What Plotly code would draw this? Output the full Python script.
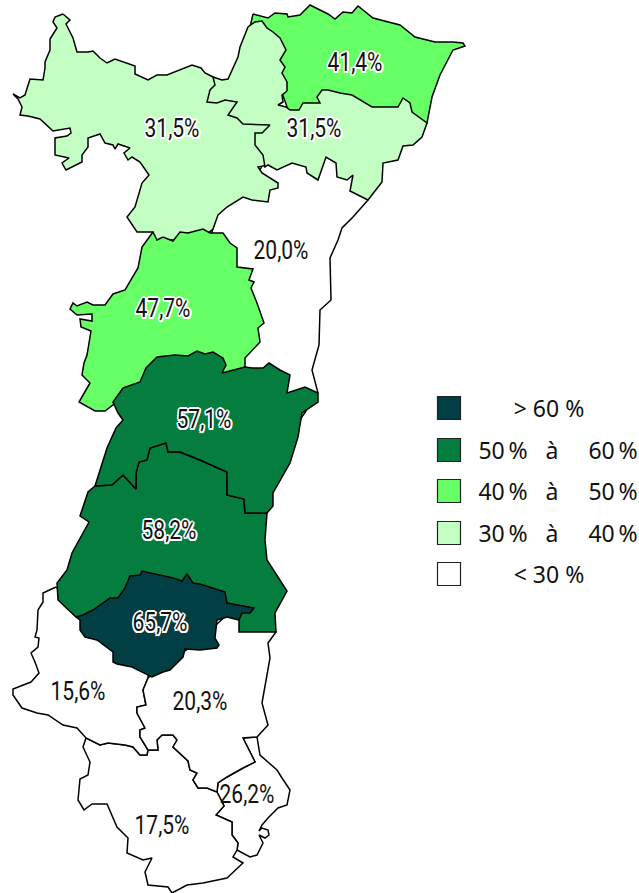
import plotly.graph_objects as go

W, H = 639, 893
C_WHITE, C_LIGHT, C_GREEN, C_MID, C_DARK = "#ffffff", "#c3ffc3", "#66ff66", "#047d3f", "#013f45"

zone_se_white = [(243,738),(257,737),(260,755),(277,770),(282,778),(290,790),(287,805),(278,808),(268,818),(262,825),(259,831),(262,828),(268,830),(269,835),(265,838),(259,835),(263,843),(257,855),(250,857),(237,850),(238,843),(232,835),(232,822),(216,815),(224,806),(217,792),(218,783),(227,777),(243,768),(255,762)]
zone_s_white = [(86,738),(83,747),(90,762),(88,775),(80,779),(78,800),(84,810),(92,804),(107,804),(117,827),(128,838),(127,853),(143,860),(152,858),(145,872),(148,885),(168,887),(172,893),(187,885),(203,883),(227,878),(243,863),(233,857),(237,850),(238,843),(232,835),(232,822),(216,815),(224,806),(217,792),(207,788),(198,788),(193,780),(197,773),(190,770),(188,761),(173,747),(177,740),(173,735),(162,735),(157,740),(158,750),(148,750),(147,755),(140,755),(133,747),(125,745),(108,743),(100,745)]
zone_sw_white = [(56,587),(43,593),(43,602),(38,610),(37,630),(35,637),(39,638),(38,647),(31,653),(35,662),(39,673),(31,682),(13,689),(13,695),(22,708),(37,713),(48,715),(63,725),(77,728),(86,738),(100,745),(108,743),(125,745),(133,747),(140,755),(147,755),(148,750),(140,737),(140,730),(145,728),(137,713),(137,707),(146,705),(143,690),(148,678),(150,640),(80,610)]
zone_sm_white = [(148,678),(143,690),(146,705),(137,707),(137,713),(145,728),(140,730),(140,737),(148,750),(158,750),(157,740),(162,735),(173,735),(177,740),(173,747),(188,761),(190,770),(197,773),(193,780),(198,788),(207,788),(217,792),(218,783),(227,777),(243,768),(255,762),(243,738),(257,737),(268,725),(262,703),(270,658),(268,643),(276,632),(250,625),(230,612),(200,640)]
zone_n_white = [(368,200),(353,217),(342,228),(338,240),(330,258),(331,300),(320,310),(319,345),(312,370),(318,393),(300,420),(220,400),(200,300),(213,229),(215,215),(240,190),(255,180),(265,160),(290,150),(330,150),(360,170)]
zone_nw_light = [(63,14),(70,20),(66,24),(70,33),(73,38),(77,52),(88,52),(93,51),(100,58),(107,63),(115,59),(135,66),(135,74),(148,80),(157,75),(167,75),(192,65),(201,68),(205,73),(213,77),(230,90),(250,110),(275,130),(275,160),(268,165),(258,167),(262,173),(278,183),(278,188),(270,190),(268,202),(252,200),(243,197),(227,207),(218,215),(213,229),(200,240),(153,240),(153,232),(137,232),(127,217),(135,207),(142,183),(149,175),(140,162),(132,157),(128,160),(124,153),(130,148),(118,144),(115,149),(113,145),(105,143),(100,134),(88,138),(88,147),(82,155),(82,162),(66,170),(62,163),(69,158),(55,155),(55,138),(67,136),(71,133),(70,128),(53,131),(40,119),(28,116),(20,115),(22,107),(18,99),(13,94),(20,98),(25,95),(30,79),(43,80),(45,68),(45,62),(50,50),(50,39),(57,28),(53,22),(55,17)]
zone_ne_green = [(253,14),(268,18),(275,13),(287,14),(288,17),(300,15),(310,5),(328,14),(335,19),(343,12),(352,13),(358,6),(373,18),(400,25),(415,37),(435,42),(453,42),(463,43),(465,46),(453,50),(440,75),(432,97),(427,123),(350,110),(290,115),(270,60),(250,27)]
zone_ne_light = [(213,77),(222,80),(228,79),(238,57),(240,47),(248,27),(255,22),(262,21),(267,28),(273,32),(280,38),(286,50),(280,60),(285,67),(282,73),(287,82),(287,91),(282,95),(283,102),(278,105),(286,107),(290,110),(299,110),(303,103),(312,103),(320,103),(317,97),(322,90),(328,90),(340,93),(352,95),(363,102),(372,107),(398,107),(403,98),(410,103),(412,112),(427,123),(422,137),(413,145),(403,146),(398,160),(383,163),(382,182),(368,200),(350,191),(353,175),(347,180),(337,177),(336,163),(326,157),(318,180),(307,173),(306,167),(292,163),(277,170),(268,165),(265,167),(263,155),(255,145),(255,133),(262,133),(270,125),(243,124),(237,118),(228,115),(237,102),(225,100),(217,103),(207,102),(210,90),(215,85)]
zone_c_green = [(153,232),(157,240),(163,237),(173,241),(180,232),(188,233),(203,229),(210,233),(223,233),(230,243),(237,248),(237,267),(253,269),(249,280),(254,282),(251,288),(257,303),(264,323),(258,328),(260,342),(245,358),(245,367),(225,375),(130,400),(113,405),(105,411),(95,411),(79,402),(90,383),(82,375),(84,363),(87,355),(91,331),(81,327),(80,319),(92,321),(92,314),(77,315),(70,309),(73,303),(77,306),(87,302),(93,305),(105,305),(113,294),(125,290),(138,268),(142,247)]
zone_cs_mid = [(123,388),(140,382),(146,368),(157,357),(175,355),(188,356),(197,351),(205,354),(213,352),(223,358),(226,365),(222,373),(245,367),(252,368),(263,368),(269,363),(280,370),(290,375),(287,393),(305,387),(318,393),(318,402),(302,413),(298,437),(290,463),(273,493),(273,506),(267,513),(245,513),(244,499),(227,495),(227,472),(200,460),(180,452),(168,452),(166,443),(150,448),(147,460),(139,462),(136,473),(136,489),(123,475),(112,485),(95,486),(107,448),(116,428),(123,420),(118,413),(113,402)]
zone_s_mid = [(95,486),(112,485),(123,475),(136,489),(136,473),(139,462),(147,460),(150,448),(166,443),(168,452),(180,452),(200,460),(227,472),(227,495),(244,499),(245,513),(267,513),(265,540),(267,560),(287,591),(275,613),(276,632),(239,632),(239,618),(235,610),(100,625),(76,617),(58,600),(57,583),(67,570),(72,553),(89,522),(80,516),(88,492)]
zone_dark = [(76,617),(80,620),(80,630),(85,637),(97,640),(113,652),(113,662),(117,664),(132,667),(152,677),(163,672),(170,670),(183,657),(185,649),(200,650),(217,648),(219,645),(215,638),(217,620),(227,617),(239,620),(242,613),(250,613),(254,608),(227,603),(225,592),(200,584),(193,583),(187,574),(182,581),(173,578),(142,571),(140,575),(130,576),(125,588),(118,598),(110,598),(93,610),(83,615)]

zones = [
    (zone_se_white, C_WHITE), (zone_s_white, C_WHITE), (zone_sw_white, C_WHITE),
    (zone_sm_white, C_WHITE), (zone_n_white, C_WHITE), (zone_nw_light, C_LIGHT),
    (zone_ne_green, C_GREEN), (zone_ne_light, C_LIGHT), (zone_c_green, C_GREEN),
    (zone_s_mid, C_MID), (zone_cs_mid, C_MID), (zone_dark, C_DARK),
]

plain_labels = ["20,0%", "15,6%", "20,3%", "17,5%", "26,2%"]
plain_x = [281, 78, 200, 162, 247]
plain_y = [253, 694, 704, 828, 797]
halo_labels = ["41,4%", "31,5%", "31,5%", "47,7%", "57,1%", "58,2%", "65,7%"]
halo_x = [355, 172, 314, 163, 204, 169, 160]
halo_y = [65, 131, 131, 311, 422, 533, 625]

legend_colors = [C_DARK, C_MID, C_GREEN, C_LIGHT, C_WHITE]
legend_y = [408, 450, 491, 533, 574]
legend_text_y = [411, 453, 494, 536, 577]
legend_mid = ["> 60 %", "", "", "", "< 30 %"]
legend_low = ["", "50\u2009%", "40\u2009%", "30\u2009%", ""]
legend_to = ["", "à", "à", "à", ""]
legend_high = ["", "60\u2009%", "50\u2009%", "40\u2009%", ""]

fig = go.Figure()
for pts, color in zones:
    xs = [p[0] for p in pts] + [pts[0][0]]
    ys = [p[1] for p in pts] + [pts[0][1]]
    fig.add_trace(go.Scatter(x=xs, y=ys, mode="lines", fill="toself", fillcolor=color,
                             line=dict(color="#000000", width=1.5), hoverinfo="skip"))

MAP_FONT = "Roboto, sans-serif"
halo = ",".join(f"{dx}px {dy}px 0.5px #fff" for dx, dy in
                [(-2,0),(2,0),(0,-2),(0,2),(-1.5,-1.5),(1.5,1.5),(-1.5,1.5),(1.5,-1.5)])
fig.add_trace(go.Scatter(x=plain_x, y=plain_y, text=plain_labels, mode="text", hoverinfo="skip",
                         textposition="middle center",
                         textfont=dict(family=MAP_FONT, size=25, color="#111111", weight=400)))
fig.add_trace(go.Scatter(x=halo_x, y=halo_y, text=halo_labels, mode="text", hoverinfo="skip",
                         textposition="middle center",
                         textfont=dict(family=MAP_FONT, size=25, color="#111111", weight=400, shadow=halo)))

fig.add_trace(go.Scatter(x=[449]*5, y=legend_y, mode="markers", hoverinfo="skip",
                         marker=dict(symbol="square", size=23, color=legend_colors,
                                     line=dict(color="#222222", width=1.2))))
LEG = dict(family="Noto Sans, sans-serif", size=23, color="#111111")
for text, x in [(legend_mid, 549), (legend_low, 503), (legend_to, 552), (legend_high, 613)]:
    fig.add_trace(go.Scatter(x=[x]*5, y=legend_text_y, text=text, mode="text", hoverinfo="skip",
                             textposition="middle center", textfont=LEG))

fig.update_layout(width=W, height=H, margin=dict(l=0, r=0, t=0, b=0), showlegend=False,
                  paper_bgcolor="#ffffff", plot_bgcolor="#ffffff")
fig.update_xaxes(range=[0, W], visible=False, fixedrange=True)
fig.update_yaxes(range=[H, 0], visible=False, fixedrange=True)
condense = """
document.body.style.margin='0';
document.querySelectorAll('.textpoint text').forEach(function(t){
  if (t.style.fontSize === '25px') {
    var x = parseFloat(t.getAttribute('x'));
    t.setAttribute('transform', 'translate(' + x + ' 0) scale(0.84 1) translate(' + (-x) + ' 0)');
  }
});
"""
fig.write_html("out.html", post_script=condense, config={"displayModeBar": False})
